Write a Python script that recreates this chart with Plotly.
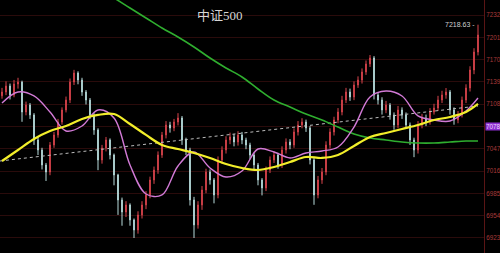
import plotly.graph_objects as go

# ---------------- data ----------------
idx = list(range(120))

open_ = [7120.0, 7125.3, 7133.6, 7121.2, 7136.4, 7139.1, 7097.6, 7107.3, 7093.5, 7058.8,
         7044.9, 7024.2, 7014.4, 7051.9, 7065.8, 7083.7, 7100.4, 7114.2, 7139.1, 7151.6,
         7141.9, 7125.3, 7114.2, 7093.5, 7072.7, 7031.1, 7047.7, 7058.8, 7038.0, 7010.3,
         6975.7, 6959.0, 6968.8, 6948.0, 6934.1, 6954.9, 6968.8, 6982.6, 7003.4, 7017.2,
         7038.0, 7065.8, 7079.6, 7075.4, 7083.7, 7089.3, 7058.8, 7044.9, 6975.7, 6941.1,
         6968.8, 6989.5, 7014.4, 7003.4, 6982.6, 7031.1, 7044.9, 7058.8, 7063.0, 7056.0,
         7065.8, 7058.8, 7051.9, 7038.0, 7024.2, 7003.4, 6992.3, 7017.2, 7031.1, 7038.0,
         7024.2, 7044.9, 7056.0, 7051.9, 7069.9, 7079.6, 7083.7, 7075.4, 7031.1, 6982.6,
         7003.4, 7014.4, 7051.9, 7069.9, 7086.5, 7097.6, 7114.2, 7125.3, 7118.4, 7135.0,
         7141.9, 7153.1, 7164.2, 7172.5, 7121.2, 7114.2, 7100.4, 7107.3, 7093.5, 7079.6,
         7100.4, 7093.5, 7079.6, 7058.8, 7044.9, 7079.6, 7089.3, 7083.7, 7097.6, 7103.1,
         7114.2, 7121.2, 7125.3, 7100.4, 7086.5, 7093.5, 7114.2, 7130.8, 7155.8, 7180.7]

close = [7125.3, 7133.6, 7121.2, 7136.4, 7139.1, 7097.6, 7107.3, 7093.5, 7058.8, 7044.9,
         7024.2, 7014.4, 7051.9, 7065.8, 7083.7, 7100.4, 7114.2, 7139.1, 7151.6, 7141.9,
         7125.3, 7114.2, 7093.5, 7072.7, 7031.1, 7047.7, 7058.8, 7038.0, 7010.3, 6975.7,
         6959.0, 6968.8, 6948.0, 6934.1, 6954.9, 6968.8, 6982.6, 7003.4, 7017.2, 7038.0,
         7065.8, 7079.6, 7075.4, 7083.7, 7089.3, 7058.8, 7044.9, 6975.7, 6941.1, 6968.8,
         6989.5, 7014.4, 7003.4, 6982.6, 7031.1, 7044.9, 7058.8, 7063.0, 7056.0, 7065.8,
         7058.8, 7051.9, 7038.0, 7024.2, 7003.4, 6992.3, 7017.2, 7031.1, 7038.0, 7024.2,
         7044.9, 7056.0, 7051.9, 7069.9, 7079.6, 7083.7, 7075.4, 7031.1, 6982.6, 7003.4,
         7014.4, 7051.9, 7069.9, 7086.5, 7097.6, 7114.2, 7125.3, 7118.4, 7135.0, 7141.9,
         7153.1, 7164.2, 7172.5, 7121.2, 7114.2, 7100.4, 7107.3, 7093.5, 7079.6, 7100.4,
         7093.5, 7079.6, 7058.8, 7044.9, 7079.6, 7089.3, 7083.7, 7097.6, 7103.1, 7114.2,
         7121.2, 7125.3, 7100.4, 7086.5, 7093.5, 7114.2, 7130.8, 7155.8, 7180.7, 7204.3]

high = [7131, 7140, 7137, 7142, 7145, 7141, 7112, 7110, 7096, 7063,
        7048, 7027, 7056, 7070, 7088, 7104, 7119, 7144, 7156, 7154,
        7145, 7128, 7117, 7096, 7075, 7052, 7063, 7061, 7040, 7012,
        6979, 6974, 6971, 6950, 6960, 6974, 6988, 7008, 7022, 7043,
        7070, 7085, 7084, 7088, 7096, 7092, 7062, 7048, 6980, 6974,
        6995, 7019, 7018, 7006, 7036, 7050, 7064, 7069, 7067, 7071,
        7070, 7062, 7055, 7041, 7027, 7006, 7022, 7036, 7043, 7041,
        7050, 7061, 7060, 7075, 7085, 7089, 7087, 7078, 7034, 7009,
        7020, 7057, 7075, 7091, 7103, 7120, 7131, 7130, 7140, 7147,
        7158, 7169, 7176.6, 7175, 7125, 7118, 7113, 7110, 7097, 7106,
        7104, 7097, 7083, 7062, 7085, 7095, 7094, 7103, 7109, 7120,
        7127, 7130.8, 7128, 7104, 7099, 7119, 7136, 7161, 7186, 7218.63]

low = [7116, 7121, 7115, 7118, 7130, 7084, 7093, 7088, 7052, 7038,
       7018, 7002, 7010, 7048, 7062, 7080, 7097, 7110, 7135, 7136,
       7120, 7108, 7088, 7066, 7017, 7026, 7043, 7032, 6996, 6955,
       6940, 6952, 6940, 6923, 6929, 6950, 6963, 6978, 6998, 7012,
       7034, 7061, 7069, 7071, 7079, 7052, 7038, 6968, 6923, 6936,
       6962, 6985, 6997, 6971, 6978, 7026, 7040, 7053, 7050, 7051,
       7053, 7046, 7032, 7018, 6996, 6982, 6988, 7013, 7027, 7019,
       7020, 7040, 7046, 7048, 7065, 7075, 7070, 7025, 6969, 6978,
       6998, 7010, 7047, 7065, 7082, 7093, 7110, 7113, 7114, 7131,
       7137, 7149, 7160, 7115, 7108, 7094, 7096, 7087, 7073, 7075,
       7088, 7074, 7052, 7035, 7040, 7075, 7078, 7080, 7094, 7099,
       7110, 7116, 7094, 7080, 7082, 7090, 7110, 7126, 7150, 7176]

ma_idx = [0, 4, 8, 12, 16, 20, 24, 28, 32, 36, 40, 44, 48, 52, 56, 60, 64, 68,
          72, 76, 80, 84, 88, 92, 96, 100, 104, 108, 112, 116, 119]

ma_yellow = [7029.7, 7044.9, 7060.2, 7071.3, 7078.2, 7087.9, 7093.5, 7094.8, 7081.0, 7065.8,
             7051.9, 7046.3, 7040.8, 7033.9, 7025.6, 7020.0, 7017.2, 7021.4, 7028.3, 7035.2,
             7033.9, 7038.0, 7050.5, 7063.0, 7068.5, 7074.1, 7079.6, 7086.5, 7090.7, 7097.6,
             7108.7]

ma_pink = [7110.1, 7125.3, 7119.8, 7097.6, 7071.3, 7078.2, 7100.4, 7089.3, 7024.2, 6984.0,
           6982.6, 7022.8, 7042.2, 7020.0, 7007.5, 7015.8, 7046.3, 7042.2, 7033.9, 7040.8,
           7043.5, 7049.1, 7076.8, 7118.4, 7126.7, 7119.8, 7092.1, 7086.5, 7085.1, 7099.0,
           7117.0]

green_idx = [24, 28, 32, 36, 40, 44, 48, 52, 56, 60, 64, 68, 72, 76, 80, 84, 88, 92,
             96, 100, 104, 108, 112, 116, 119]
ma_green = [7268.0, 7255.6, 7241.7, 7227.9, 7214.0, 7201.5, 7187.7, 7172.4, 7158.6, 7146.1,
            7129.5, 7114.2, 7104.5, 7094.8, 7086.5, 7076.8, 7067.1, 7061.6, 7058.8, 7056.0,
            7054.6, 7054.6, 7056.0, 7057.4, 7057.4]

trend_idx = [-0.5, 119]
trend_val = [7029.7, 7105.9]

tick_vals = [7232.0, 7201.1, 7170.2, 7139.3, 7108.4, 7077.5, 7046.6, 7015.7, 6984.8, 6953.9, 6923.0]
tick_text = ["7232", "7201", "7170", "7139", "7108", "7078", "7047", "7016", "6985", "6954", "6923"]

title_text = "中证500"
high_label = "7218.63"

# ---------------- figure ----------------
fig = go.Figure()

fig.add_trace(go.Candlestick(
    x=idx, open=open_, high=high, low=low, close=close,
    increasing=dict(line=dict(color="#d8444c", width=1), fillcolor="#d8444c"),
    decreasing=dict(line=dict(color="#b8dcdc", width=1), fillcolor="#b8dcdc"),
    whiskerwidth=0, showlegend=False, hoverinfo="skip",
))

fig.add_trace(go.Scatter(x=trend_idx, y=trend_val, mode="lines",
                         line=dict(color="#bdbdbd", width=1, dash="dot"),
                         showlegend=False, hoverinfo="skip"))
fig.add_trace(go.Scatter(x=green_idx, y=ma_green, mode="lines", line_shape="spline",
                         line=dict(color="#2fae2f", width=1.6), showlegend=False, hoverinfo="skip"))
fig.add_trace(go.Scatter(x=ma_idx, y=ma_pink, mode="lines", line_shape="spline",
                         line=dict(color="#d27ad6", width=1.4), showlegend=False, hoverinfo="skip"))
fig.add_trace(go.Scatter(x=ma_idx, y=ma_yellow, mode="lines", line_shape="spline",
                         line=dict(color="#f2ee2a", width=2.2), showlegend=False, hoverinfo="skip"))

fig.update_layout(
    width=500, height=253,
    margin=dict(l=0, r=0, t=0, b=0),
    paper_bgcolor="black", plot_bgcolor="black",
    boxgap=0.75,
    xaxis=dict(domain=[0, 0.968], range=[-0.5, 120.5], visible=False,
               rangeslider=dict(visible=False), fixedrange=True),
    yaxis=dict(side="right", range=[6902.2, 7252.8], tickvals=tick_vals, ticktext=tick_text,
               tickfont=dict(size=6.3, color="#a83a3a", family="Liberation Sans"),
               ticklabelstandoff=0,
               showgrid=True, gridcolor="#2a0b0b", gridwidth=1,
               showline=True, linecolor="#5a1515", linewidth=1,
               ticks="", zeroline=False, automargin=False),
    annotations=[
        dict(text=title_text, xref="paper", yref="paper", x=0.44, y=1 - 16 / 253,
             showarrow=False, xanchor="center", yanchor="middle",
             font=dict(size=13, color="#d6d6d6", family="Liberation Serif, Noto Sans CJK SC")),
        dict(text=high_label + " -", xref="x", yref="y", x=119, y=7218.63,
             showarrow=False, xanchor="right", yanchor="middle", xshift=-1,
             font=dict(size=7, color="#d0d0d0", family="Liberation Sans")),
        dict(text=tick_text[5], xref="paper", yref="y", x=0.97, y=tick_vals[5],
             showarrow=False, xanchor="left", yanchor="middle", bgcolor="#8c2fcf",
             borderpad=0, font=dict(size=6.3, color="#f0d8ff", family="Liberation Sans")),
    ],
)

fig.write_html("out.html")
